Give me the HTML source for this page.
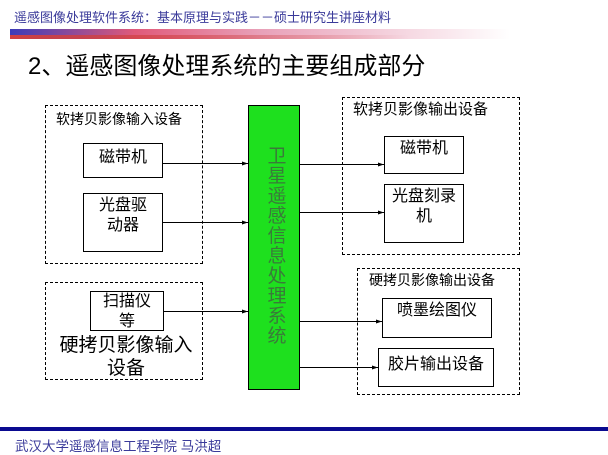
<!DOCTYPE html>
<html><head><meta charset="utf-8"><style>
body{margin:0;width:608px;height:455px;background:#fff;position:relative;overflow:hidden;font-family:"Liberation Sans","Noto Sans CJK SC",sans-serif;}
.a{position:absolute;}
.d{position:absolute;border:1px dashed #000;box-sizing:border-box;}
.b{position:absolute;border:1px solid #000;box-sizing:border-box;background:#fff;text-align:center;font-size:16px;line-height:20px;color:#000;}
.l{position:absolute;font-size:14px;color:#000;white-space:nowrap;}
</style></head><body>
<div class="a" style="left:14px;top:7px;font-size:13px;color:#3a3a9a;white-space:nowrap">遥感图像处理软件系统：基本原理与实践－－硕士研究生讲座材料</div>
<div class="a" style="left:10px;top:29px;width:500px;height:10px;background:linear-gradient(to right,#3b3bb8 0%,#e05a7a 25%,#e8a0b8 50%,#fff 100%)"></div>
<div class="a" style="left:10px;top:35px;width:400px;height:4px;background:linear-gradient(to right,#d04040,rgba(255,255,255,0))"></div>
<div class="a" style="left:28px;top:46px;font-size:24px;color:#000;white-space:nowrap">2、遥感图像处理系统的主要组成部分</div>

<div class="d" style="left:45px;top:105px;width:158px;height:159px"></div>
<div class="l" style="left:56px;top:109px">软拷贝影像输入设备</div>
<div class="b" style="left:83px;top:143px;width:80px;height:35px;padding-top:4px">磁带机</div>
<div class="b" style="left:83px;top:193px;width:80px;height:59px;padding-top:2px">光盘驱<br>动器</div>

<div class="d" style="left:45px;top:282px;width:158px;height:98px"></div>
<div class="b" style="left:90px;top:291px;width:74px;height:40px;overflow:hidden">扫描仪<br>等</div>
<div class="a" style="left:50px;top:334px;width:152px;text-align:center;font-size:19px;line-height:23px;color:#000">硬拷贝影像输入<br>设备</div>

<div class="a" style="left:248px;top:105px;width:52px;height:285px;background:#1ee01e;border:1px solid #000;box-sizing:border-box"></div>
<div class="a" style="left:266px;top:147px;width:22px;font-size:19px;line-height:20px;color:#3a7a3a;text-align:center">卫星遥感信息处理系统</div>

<div class="d" style="left:342px;top:97px;width:178px;height:158px"></div>
<div class="l" style="left:353px;top:98px;font-size:15px">软拷贝影像输出设备</div>
<div class="b" style="left:384px;top:136px;width:80px;height:38px;padding-top:2px">磁带机</div>
<div class="b" style="left:384px;top:184px;width:80px;height:59px;padding-top:2px">光盘刻录<br>机</div>

<div class="d" style="left:357px;top:268px;width:163px;height:127px"></div>
<div class="l" style="left:369px;top:270px">硬拷贝影像输出设备</div>
<div class="b" style="left:382px;top:298px;width:110px;height:40px;padding-top:2px">喷墨绘图仪</div>
<div class="b" style="left:378px;top:348px;width:116px;height:39px;padding-top:6px">胶片输出设备</div>

<svg class="a" style="left:0;top:0" width="608" height="455">
<defs><marker id="m" markerWidth="6" markerHeight="6" refX="6" refY="3" orient="auto"><path d="M0,1 L6,3 L0,5z" fill="#000"/></marker></defs>
<g stroke="#000" stroke-width="1" marker-end="url(#m)">
<line x1="163" y1="163.5" x2="248" y2="163.5"/>
<line x1="163" y1="222.5" x2="248" y2="222.5"/>
<line x1="164" y1="311.5" x2="248" y2="311.5"/>
<line x1="300" y1="164.5" x2="384" y2="164.5"/>
<line x1="300" y1="212.5" x2="384" y2="212.5"/>
<line x1="300" y1="321.5" x2="382" y2="321.5"/>
<line x1="300" y1="367.5" x2="378" y2="367.5"/>
</g></svg>

<div class="a" style="left:0;top:427px;width:608px;height:4px;background:#0a0a90"></div>
<div class="a" style="left:15px;top:435px;font-size:13.5px;color:#3a3a9a;white-space:nowrap">武汉大学遥感信息工程学院 马洪超</div>
</body></html>
